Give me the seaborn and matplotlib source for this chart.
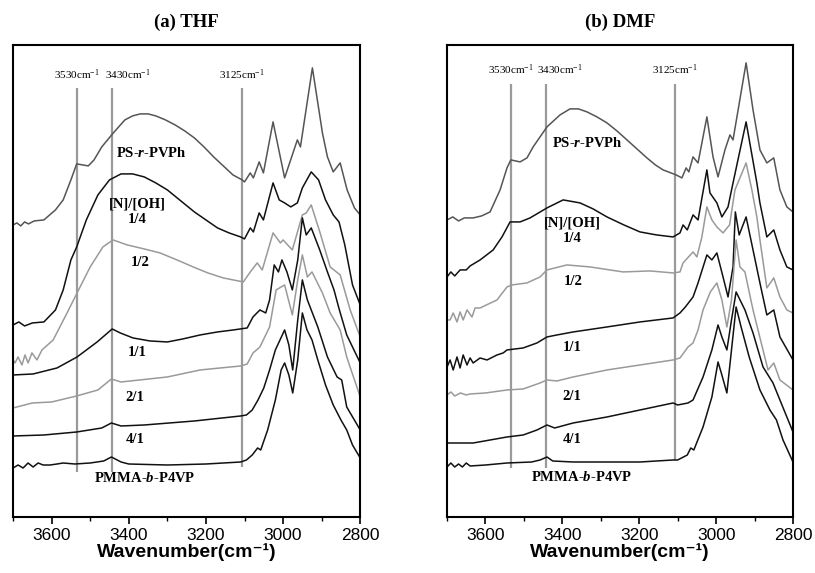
import matplotlib
matplotlib.use("Agg")
import pandas as pd
import matplotlib.pyplot as plt
import seaborn as sns
from matplotlib.ticker import MultipleLocator

sns.set_style("white")
plt.rcParams['font.family'] = ['Liberation Serif', 'DejaVu Serif']
plt.rcParams['mathtext.fontset'] = 'custom'
plt.rcParams['mathtext.rm'] = 'Liberation Serif:bold'
plt.rcParams['mathtext.it'] = 'Liberation Serif:italic:bold'
plt.rcParams['mathtext.bf'] = 'Liberation Serif:bold'
plt.rcParams['text.color'] = 'black'
plt.rcParams['axes.labelcolor'] = 'black'
plt.rcParams['xtick.color'] = 'black'

# spectra: (wavenumber cm-1, stacked height, a.u.)
# ---- (a) THF ----
thf_ps = [(3700, 292), (3690, 294), (3680, 291), (3670, 295), (3660, 293), (3645, 296), (3620, 297),
          (3590, 307), (3570, 317), (3550, 337), (3535, 353), (3520, 352), (3505, 351), (3490, 357),
          (3470, 370), (3440, 384), (3410, 397), (3390, 401), (3370, 403), (3350, 403), (3330, 401),
          (3305, 397), (3280, 392), (3255, 386), (3230, 379), (3205, 370), (3180, 360), (3155, 351),
          (3130, 342), (3106, 337), (3100, 335), (3085, 344), (3077, 339), (3062, 355),
          (3051, 344), (3026, 395), (2996, 339), (2963, 377), (2955, 370), (2924, 449), (2898, 384),
          (2885, 360), (2870, 345), (2852, 354), (2834, 327), (2815, 309), (2800, 302)]
thf_14 = [(3700, 192), (3685, 195), (3670, 191), (3650, 194), (3620, 195), (3590, 207), (3570, 227),
          (3550, 257), (3535, 270), (3510, 297), (3480, 322), (3450, 337), (3420, 343), (3390, 343),
          (3360, 340), (3330, 334), (3300, 327), (3265, 316), (3230, 305), (3200, 297), (3170, 289),
          (3140, 284), (3110, 280), (3100, 278), (3085, 289), (3077, 285),
          (3062, 304), (3051, 297), (3026, 334), (3010, 317), (2996, 314), (2980, 310), (2963, 314),
          (2950, 329), (2927, 345), (2908, 337), (2890, 317), (2870, 302), (2855, 295), (2840, 272),
          (2820, 232), (2800, 212)]
thf_12 = [(3700, 157), (3695, 154), (3687, 160), (3677, 152), (3669, 162), (3661, 154), (3651, 164),
          (3638, 157), (3625, 167), (3596, 177), (3560, 204), (3534, 224), (3500, 250), (3467, 270),
          (3441, 277), (3404, 272), (3360, 268), (3319, 264), (3275, 257), (3233, 250), (3195, 244),
          (3155, 239), (3103, 235), (3085, 245),
          (3067, 254), (3054, 247), (3026, 284), (3007, 274), (3000, 277), (2976, 267), (2950, 302),
          (2940, 304), (2927, 312), (2904, 284), (2878, 250), (2852, 242), (2826, 207), (2800, 180)]
thf_11 = [(3700, 142), (3648, 143), (3586, 149), (3534, 160), (3482, 175), (3443, 188), (3422, 184),
          (3389, 179), (3345, 176), (3300, 175), (3260, 178), (3215, 182), (3170, 185), (3129, 187),
          (3093, 189), (3078, 200), (3060, 207),
          (3045, 204), (3035, 217), (3023, 252), (3012, 245), (3003, 257), (2990, 245), (2976, 227),
          (2962, 257), (2950, 299), (2940, 282), (2927, 289), (2905, 267), (2885, 245), (2868, 227),
          (2854, 207), (2835, 182), (2800, 154)]
thf_21 = [(3700, 109), (3650, 114), (3600, 115), (3535, 121), (3480, 127), (3445, 138), (3420, 135),
          (3300, 140), (3215, 147), (3110, 151), (3093, 153), (3078, 164), (3060, 170), (3035, 190),
          (3018, 227), (2996, 232), (2976, 202), (2962, 237), (2950, 262), (2937, 240), (2925, 245),
          (2898, 224), (2878, 204), (2852, 187), (2835, 160), (2800, 120)]
thf_41 = [(3700, 81), (3620, 82), (3535, 85), (3470, 89), (3445, 94), (3420, 91), (3360, 92),
          (3230, 96), (3110, 101), (3095, 102), (3080, 107), (3065, 117), (3050, 129), (3035, 147),
          (3020, 167), (2996, 187), (2985, 172), (2975, 147), (2962, 197), (2950, 237), (2937, 217),
          (2910, 190), (2885, 160), (2860, 140), (2848, 137), (2835, 110), (2800, 87)]
thf_pmma = [(3700, 49), (3687, 52), (3674, 49), (3661, 54), (3648, 50), (3635, 54), (3622, 52),
            (3604, 52), (3586, 53), (3570, 54), (3540, 53), (3500, 54), (3465, 56), (3445, 60),
            (3420, 55), (3400, 53), (3300, 52), (3200, 53), (3110, 55), (3095, 57), (3080, 62),
            (3066, 69), (3058, 67), (3040, 87), (3020, 117), (3005, 147), (2996, 154), (2985, 142),
            (2975, 124), (2962, 157), (2950, 204), (2938, 187), (2925, 177), (2910, 157), (2890, 132),
            (2870, 112), (2850, 97), (2835, 87), (2820, 72), (2800, 59)]

# ---- (b) DMF ----
dmf_ps = [(3700, 297), (3685, 300), (3670, 296), (3655, 299), (3632, 299), (3610, 301), (3588, 305),
          (3562, 327), (3544, 349), (3534, 357), (3510, 355), (3492, 359), (3476, 370), (3440, 390),
          (3406, 402), (3380, 408), (3358, 408), (3336, 405), (3310, 400), (3284, 394), (3258, 386),
          (3232, 377), (3206, 368), (3180, 359), (3158, 352), (3138, 347),
          (3104, 342), (3089, 339), (3078, 349), (3071, 345), (3060, 360), (3047, 354), (3024, 400),
          (3008, 360), (2995, 340), (2977, 367), (2964, 382), (2956, 377), (2922, 454), (2904, 407),
          (2886, 367), (2868, 354), (2850, 359), (2834, 327), (2816, 310), (2800, 305)]
dmf_14 = [(3700, 240), (3690, 245), (3680, 241), (3666, 247), (3650, 247), (3640, 251), (3614, 257),
          (3580, 267), (3557, 280), (3536, 295), (3510, 295), (3484, 299), (3440, 309), (3398, 317),
          (3354, 314), (3320, 308), (3284, 300), (3240, 292), (3198, 285), (3155, 282),
          (3112, 280), (3094, 284), (3086, 292), (3075, 287),
          (3060, 302), (3047, 297), (3024, 347), (3016, 324), (2998, 314), (2985, 300), (2969, 310),
          (2956, 334), (2922, 395), (2894, 334), (2886, 314), (2868, 280), (2850, 287), (2834, 267),
          (2816, 250), (2800, 247)]
dmf_12 = [(3700, 197), (3692, 197), (3684, 204), (3674, 195), (3666, 205), (3658, 197), (3648, 207),
          (3635, 200), (3627, 209), (3614, 209), (3570, 217), (3544, 230), (3531, 232), (3492, 234),
          (3458, 240), (3440, 247), (3388, 252), (3328, 250), (3242, 245), (3172, 246), (3112, 244),
          (3094, 245), (3086, 254), (3060, 265), (3050, 260), (3037, 280), (3024, 310), (3011, 297),
          (2998, 290), (2982, 284), (2965, 292), (2951, 327), (2922, 354), (2907, 327), (2894, 300),
          (2886, 277), (2868, 229), (2850, 239), (2834, 220), (2816, 207), (2800, 204)]
dmf_11 = [(3700, 150), (3692, 157), (3684, 147), (3674, 160), (3666, 149), (3658, 162), (3648, 152),
          (3640, 159), (3632, 154), (3614, 159), (3596, 157), (3570, 162), (3554, 164), (3544, 167),
          (3502, 169), (3466, 174), (3440, 180), (3414, 182), (3372, 185), (3284, 190), (3198, 195),
          (3112, 199), (3094, 204), (3080, 210), (3060, 220), (3047, 234), (3024, 262), (3011, 257),
          (2998, 264), (2982, 240), (2969, 220), (2956, 250), (2950, 305), (2940, 282), (2922, 300),
          (2904, 267), (2886, 234), (2868, 202), (2850, 207), (2834, 180), (2800, 157)]
dmf_21 = [(3700, 122), (3690, 125), (3680, 121), (3665, 124), (3650, 122), (3640, 123), (3600, 124),
          (3544, 127), (3502, 128), (3458, 134), (3440, 137), (3414, 136), (3372, 140), (3284, 147),
          (3198, 152), (3112, 157), (3094, 159), (3073, 170), (3060, 174), (3047, 187), (3034, 207),
          (3015, 225), (2998, 234), (2985, 217), (2972, 190), (2960, 217), (2948, 277), (2938, 250),
          (2925, 245), (2904, 207), (2878, 167), (2865, 147), (2850, 154), (2834, 137), (2800, 127)]
dmf_41 = [(3700, 74), (3632, 74), (3588, 77), (3544, 80), (3502, 82), (3466, 87), (3440, 92),
          (3420, 89), (3372, 94), (3284, 100), (3198, 107), (3112, 114), (3100, 112), (3073, 114),
          (3060, 117), (3034, 140), (3011, 167), (2995, 192), (2985, 180), (2972, 167), (2960, 197),
          (2948, 225), (2925, 207), (2904, 184), (2878, 150), (2852, 134), (2834, 117), (2800, 85)]
dmf_pmma = [(3700, 50), (3690, 54), (3680, 50), (3670, 53), (3660, 50), (3650, 54), (3640, 51),
            (3600, 52), (3544, 54), (3480, 55), (3458, 57), (3440, 60), (3425, 56), (3372, 55),
            (3198, 55), (3112, 57), (3100, 57), (3075, 62), (3066, 69), (3058, 67), (3034, 90),
            (3011, 120), (2995, 155), (2985, 142), (2972, 124), (2960, 167), (2948, 210), (2935, 190),
            (2914, 160), (2886, 127), (2860, 107), (2843, 97), (2826, 77), (2800, 55)]

# reference lines (drawn position, label)
marker_pos = [3534, 3443, 3106]
marker_labels = ['3530', '3430', '3125']
marker_align = ['center', 'left', 'center']

curve_labels = ['PS-$r$-PVPh', '[N]/[OH]\n1/4', '1/2', '1/1', '2/1', '4/1', 'PMMA-$b$-P4VP']
thf_label_pos = [(3342, 364), (3378, 305), (3370, 254), (3378, 164), (3384, 119), (3384, 77), (3358, 39)]
dmf_label_pos = [(3336, 374), (3374, 286), (3372, 235), (3375, 169), (3375, 120), (3375, 77), (3349, 40)]

DARK = '#555555'
GRAY = '#9a9a9a'
BLACK = '#111111'
curve_colors = [DARK, BLACK, GRAY, BLACK, GRAY, BLACK, BLACK]

panels = [
    ('(a) THF', [thf_ps, thf_14, thf_12, thf_11, thf_21, thf_41, thf_pmma], thf_label_pos,
     [0.016, 0.0977, 0.426, 0.824], [(45, 429), (45, 429), (50, 429)], 435,
     [3534, 3461, 3106]),
    ('(b) DMF', [dmf_ps, dmf_14, dmf_12, dmf_11, dmf_21, dmf_41, dmf_pmma], dmf_label_pos,
     [0.5485, 0.0977, 0.4245, 0.824], [(49, 433), (49, 433), (57, 433)], 440,
     [3534, 3466, 3106]),
]

fig = plt.figure(figsize=(8.15, 5.73), dpi=100)

for title, curves, label_pos, rect, line_span, mark_y, mark_x in panels:
    ax = fig.add_axes(rect)
    for lo_hi, pos in zip(line_span, marker_pos):
        ax.vlines(pos, lo_hi[0], lo_hi[1], color='#9a9a9a', lw=1.6, zorder=1)
    for x, lab, ha in zip(mark_x, marker_labels, marker_align):
        ax.text(x, mark_y, lab + r'cm$^{\mathregular{-1}}$', ha=ha, va='bottom', fontsize=8)
    for data, col in zip(curves, curve_colors):
        df = pd.DataFrame(data, columns=['wn', 'h'])
        sns.lineplot(data=df, x='wn', y='h', ax=ax, color=col, lw=1.1,
                     sort=False, estimator=None, zorder=2)
    for lab, (x, y) in zip(curve_labels, label_pos):
        ax.text(x, y, lab, ha='center', va='center', fontsize=10.5, fontweight='bold',
                linespacing=1.3)

    ax.set_xlim(3700, 2800)
    ax.set_ylim(0, 472)
    ax.set_yticks([])
    ax.set_ylabel('')
    ax.xaxis.set_major_locator(MultipleLocator(200))
    ax.xaxis.set_minor_locator(MultipleLocator(100))
    ax.tick_params(axis='x', which='major', direction='out', length=5, width=1.2,
                   bottom=True, labelsize=12.5, pad=3, colors='black')
    ax.tick_params(axis='x', which='minor', direction='out', length=3, width=1.0, bottom=True,
                   colors='black')
    for lbl in ax.get_xticklabels():
        lbl.set_family(['Liberation Sans', 'DejaVu Sans'])
    ax.set_xlabel('Wavenumber(cm\u207b\u00b9)', fontsize=14, fontweight='bold',
                  family=['Liberation Sans', 'DejaVu Sans'], labelpad=0)
    for sp in ax.spines.values():
        sp.set_linewidth(1.5)
        sp.set_color('black')
    ax.set_title(title, fontsize=13.5, fontweight='bold', pad=13)

fig.savefig('out.png', dpi=100)
